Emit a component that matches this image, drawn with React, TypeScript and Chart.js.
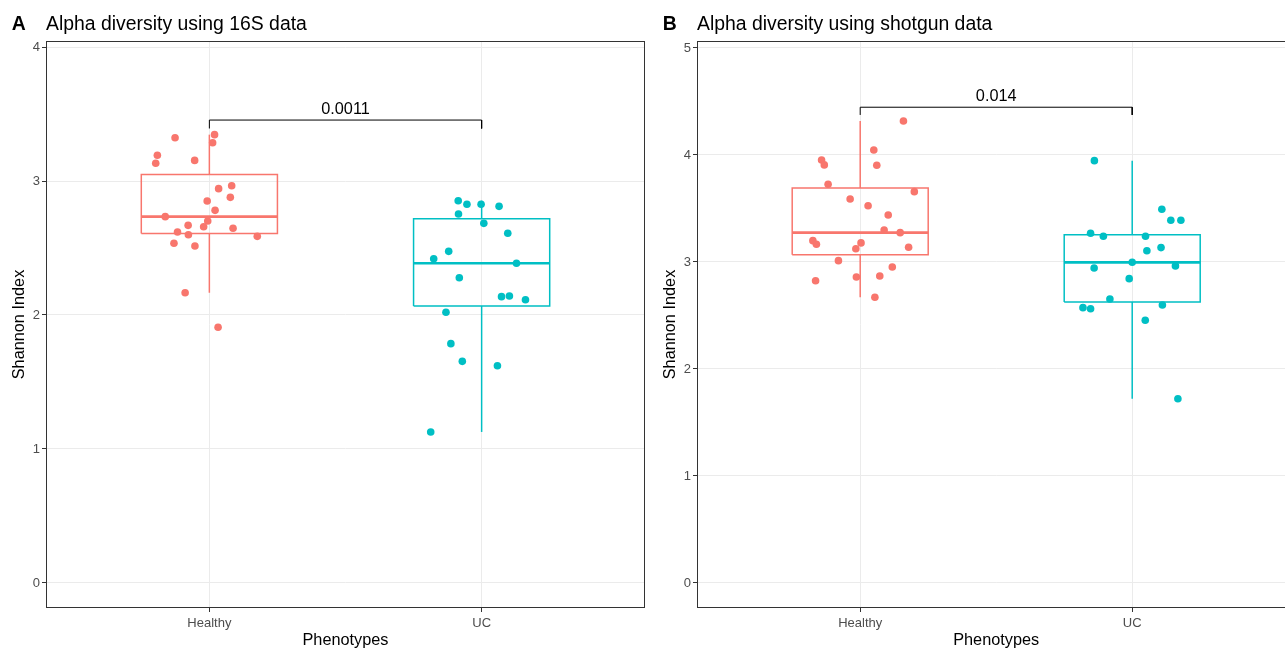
import React, { useEffect, useRef } from "react";
import { Chart, registerables } from "chart.js";

Chart.register(...registerables);

// ---------- shared ----------
const CATEGORIES = ["Healthy", "UC"];
const GROUP_COLORS = ["#F8766D", "#00BFC4"];
const X_TITLE = "Phenotypes";
const Y_TITLE = "Shannon Index";

// ---------- Panel A: 16S ----------
const A_TITLE = "Alpha diversity using 16S data";
const A_TAG = "A";
const A_HEALTHY = [3.346, 3.286, 3.323, 3.192, 3.132, 3.154, 2.965, 2.943, 2.878, 2.851, 2.781, 2.734, 2.701, 2.659, 2.669, 2.647, 2.619, 2.599, 2.535, 2.515, 2.587, 2.166, 1.908];
const A_HEALTHY_JITTER = [0.019, 0.012, -0.126, -0.191, -0.197, -0.054, 0.082, 0.034, 0.077, -0.008, 0.021, -0.162, -0.006, -0.021, -0.078, 0.087, -0.117, -0.077, -0.13, -0.053, 0.176, -0.089, 0.032];
const A_UC = [2.853, 2.826, 2.826, 2.811, 2.754, 2.684, 2.61, 2.475, 2.42, 2.386, 2.278, 2.137, 2.142, 2.114, 2.02, 1.786, 1.654, 1.621, 1.127];
const A_UC_JITTER = [-0.086, -0.054, -0.002, 0.064, -0.085, 0.008, 0.096, -0.121, -0.176, 0.128, -0.082, 0.073, 0.102, 0.161, -0.131, -0.113, -0.071, 0.058, -0.187];
const A_Y_TICKS = [0, 1, 2, 3, 4];
const A_Y_MIN = -0.187;
const A_Y_MAX = 4.045;
const A_P_LABEL = "0.0011";
const A_BRACKET = [3.392, 3.455];

// ---------- Panel B: shotgun ----------
const B_TITLE = "Alpha diversity using shotgun data";
const B_TAG = "B";
const B_HEALTHY = [4.318, 4.047, 3.953, 3.907, 3.904, 3.726, 3.657, 3.589, 3.526, 3.439, 3.299, 3.274, 3.199, 3.165, 3.178, 3.124, 3.137, 3.012, 2.953, 2.825, 2.86, 2.869, 2.67];
const B_HEALTHY_JITTER = [0.159, 0.05, -0.142, -0.132, 0.061, -0.118, 0.199, -0.037, 0.029, 0.103, 0.088, 0.147, -0.174, -0.161, 0.003, -0.016, 0.178, -0.08, 0.118, -0.164, -0.014, 0.072, 0.054];
const B_UC = [3.947, 3.492, 3.39, 3.39, 3.268, 3.24, 3.24, 3.134, 3.105, 2.997, 2.963, 2.944, 2.844, 2.654, 2.573, 2.563, 2.598, 2.455, 1.722];
const B_UC_JITTER = [-0.139, 0.109, 0.142, 0.179, -0.153, -0.106, 0.049, 0.106, 0.054, 0.0, 0.159, -0.14, -0.011, -0.082, -0.181, -0.153, 0.111, 0.048, 0.168];
const B_Y_TICKS = [0, 1, 2, 3, 4, 5];
const B_Y_MIN = -0.234;
const B_Y_MAX = 5.065;
const B_P_LABEL = "0.014";
const B_BRACKET = [4.374, 4.446];

const FONT = '"Liberation Sans", Arial, Helvetica, sans-serif';

function q7(sorted: number[], p: number) {
  const h = (sorted.length - 1) * p;
  const lo = Math.floor(h);
  const hi = Math.min(lo + 1, sorted.length - 1);
  return sorted[lo] + (h - lo) * (sorted[hi] - sorted[lo]);
}

function boxStats(vals: number[]) {
  const s = [...vals].sort((a, b) => a - b);
  const q1 = q7(s, 0.25);
  const med = q7(s, 0.5);
  const q3 = q7(s, 0.75);
  const iqr = q3 - q1;
  const lo = s.filter((v) => v >= q1 - 1.5 * iqr)[0];
  const inside = s.filter((v) => v <= q3 + 1.5 * iqr);
  const hi = inside[inside.length - 1];
  return { q1, med, q3, lo, hi };
}

type PanelProps = {
  tag: string;
  title: string;
  groups: number[][];
  jitters: number[][];
  yTicks: number[];
  yMin: number;
  yMax: number;
  pLabel: string;
  bracket: number[];
  left: number;
  yAxisWidth: number;
  rightPad: number;
};

const BOX_HALF = 0.25;

function Panel(props: PanelProps) {
  const ref = useRef<HTMLCanvasElement | null>(null);
  useEffect(() => {
    if (!ref.current) return;
    const datasets: any[] = [];
    props.groups.forEach((vals, g) => {
      const cx = g + 1;
      datasets.push({
        data: vals.map((v, i) => ({ x: cx + props.jitters[g][i], y: v })),
        backgroundColor: GROUP_COLORS[g],
        borderWidth: 0,
        pointRadius: 3.8,
        pointHoverRadius: 3.8,
        showLine: false,
        order: 0,
      });
    });
    props.groups.forEach((vals, g) => {
      const cx = g + 1;
      const st = boxStats(vals);
      const line = (pts: { x: number; y: number }[], w: number, order: number) => ({
        data: pts,
        borderColor: GROUP_COLORS[g],
        borderWidth: w,
        pointRadius: 0,
        pointHoverRadius: 0,
        showLine: true,
        fill: false,
        tension: 0,
        order,
      });
      datasets.push(
        line(
          [
            { x: cx - BOX_HALF, y: st.q1 },
            { x: cx + BOX_HALF, y: st.q1 },
            { x: cx + BOX_HALF, y: st.q3 },
            { x: cx - BOX_HALF, y: st.q3 },
            { x: cx - BOX_HALF, y: st.q1 },
          ],
          1.5,
          2
        )
      );
      datasets.push(line([{ x: cx, y: st.q3 }, { x: cx, y: st.hi }], 1.5, 2));
      datasets.push(line([{ x: cx, y: st.lo }, { x: cx, y: st.q1 }], 1.5, 2));
      datasets.push(line([{ x: cx - BOX_HALF, y: st.med }, { x: cx + BOX_HALF, y: st.med }], 2.7, 1));
    });
    datasets.push({
      data: [
        { x: 1, y: props.bracket[0] },
        { x: 1, y: props.bracket[1] },
        { x: 2, y: props.bracket[1] },
        { x: 2, y: props.bracket[0] },
      ],
      borderColor: "#000000",
      borderWidth: 1,
      pointRadius: 0,
      pointHoverRadius: 0,
      showLine: true,
      fill: false,
      tension: 0,
      order: 1,
    });

    const decor = {
      id: "decor",
      afterDraw(chart: any) {
        const { ctx, chartArea: ca, scales } = chart;
        ctx.save();
        ctx.strokeStyle = "#333333";
        ctx.lineWidth = 1;
        ctx.strokeRect(ca.left + 0.5, ca.top + 0.5, ca.right - ca.left - 1, ca.bottom - ca.top - 1);
        ctx.fillStyle = "#000000";
        ctx.textBaseline = "alphabetic";
        ctx.textAlign = "left";
        ctx.font = `bold 19.4px ${FONT}`;
        ctx.fillText(props.tag, ca.left - 34.3, 30);
        ctx.font = `19.4px ${FONT}`;
        ctx.fillText(props.title, ca.left, 30);
        ctx.textAlign = "center";
        ctx.font = `16.3px ${FONT}`;
        ctx.fillText(X_TITLE, (ca.left + ca.right) / 2, 645);
        const px = scales.x.getPixelForValue(1.5);
        const py = scales.y.getPixelForValue(props.bracket[1]);
        ctx.fillText(props.pLabel, px, py - 6);
        ctx.translate(ca.left - 22.5, (ca.top + ca.bottom) / 2);
        ctx.rotate(-Math.PI / 2);
        ctx.fillText(Y_TITLE, 0, 0);
        ctx.restore();
      },
    };

    const yTicks = props.yTicks;
    const chart = new Chart(ref.current, {
      type: "scatter",
      data: { datasets },
      options: {
        animation: false,
        responsive: false,
        maintainAspectRatio: false,
        events: [],
        layout: { padding: { top: 41, right: props.rightPad, bottom: 0, left: 0 } },
        plugins: { legend: { display: false }, tooltip: { enabled: false }, title: { display: false } },
        scales: {
          x: {
            type: "linear",
            min: 0.4,
            max: 2.6,
            afterBuildTicks: (s: any) => {
              s.ticks = CATEGORIES.map((_, i) => ({ value: i + 1 }));
            },
            afterFit: (s: any) => {
              s.height = 40;
            },
            ticks: {
              autoSkip: false,
              maxRotation: 0,
              padding: 4,
              color: "#4D4D4D",
              font: { family: FONT, size: 13 },
              callback: (v: any) => CATEGORIES[Math.round(Number(v)) - 1] ?? "",
            },
            grid: { color: "#EBEBEB", lineWidth: 1, tickLength: 4, tickColor: "#333333", tickWidth: 1 },
            border: { display: false },
          },
          y: {
            type: "linear",
            min: props.yMin,
            max: props.yMax,
            afterBuildTicks: (s: any) => {
              s.ticks = yTicks.map((v) => ({ value: v }));
            },
            afterFit: (s: any) => {
              s.width = props.yAxisWidth;
            },
            ticks: {
              autoSkip: false,
              padding: 2,
              color: "#4D4D4D",
              font: { family: FONT, size: 13 },
              callback: (v: any) => String(v),
            },
            grid: { color: "#EBEBEB", lineWidth: 1, tickLength: 4, tickColor: "#333333", tickWidth: 1 },
            border: { display: false },
          },
        },
      } as any,
      plugins: [decor],
    });
    return () => chart.destroy();
  }, []);
  return (
    <canvas
      ref={ref}
      width={650}
      height={648}
      style={{ position: "absolute", left: props.left, top: 0, width: 650, height: 648 }}
    />
  );
}

export default function App() {
  return (
    <div style={{ position: "absolute", left: 0, top: 0, width: 1285, height: 648, overflow: "hidden", background: "#ffffff" }}>
      <Panel
        tag={A_TAG}
        title={A_TITLE}
        groups={[A_HEALTHY, A_UC]}
        jitters={[A_HEALTHY_JITTER, A_UC_JITTER]}
        yTicks={A_Y_TICKS}
        yMin={A_Y_MIN}
        yMax={A_Y_MAX}
        pLabel={A_P_LABEL}
        bracket={A_BRACKET}
        left={0}
        yAxisWidth={46}
        rightPad={5}
      />
      <Panel
        tag={B_TAG}
        title={B_TITLE}
        groups={[B_HEALTHY, B_UC]}
        jitters={[B_HEALTHY_JITTER, B_UC_JITTER]}
        yTicks={B_Y_TICKS}
        yMin={B_Y_MIN}
        yMax={B_Y_MAX}
        pLabel={B_P_LABEL}
        bracket={B_BRACKET}
        left={650}
        yAxisWidth={47}
        rightPad={4.6}
      />
    </div>
  );
}
